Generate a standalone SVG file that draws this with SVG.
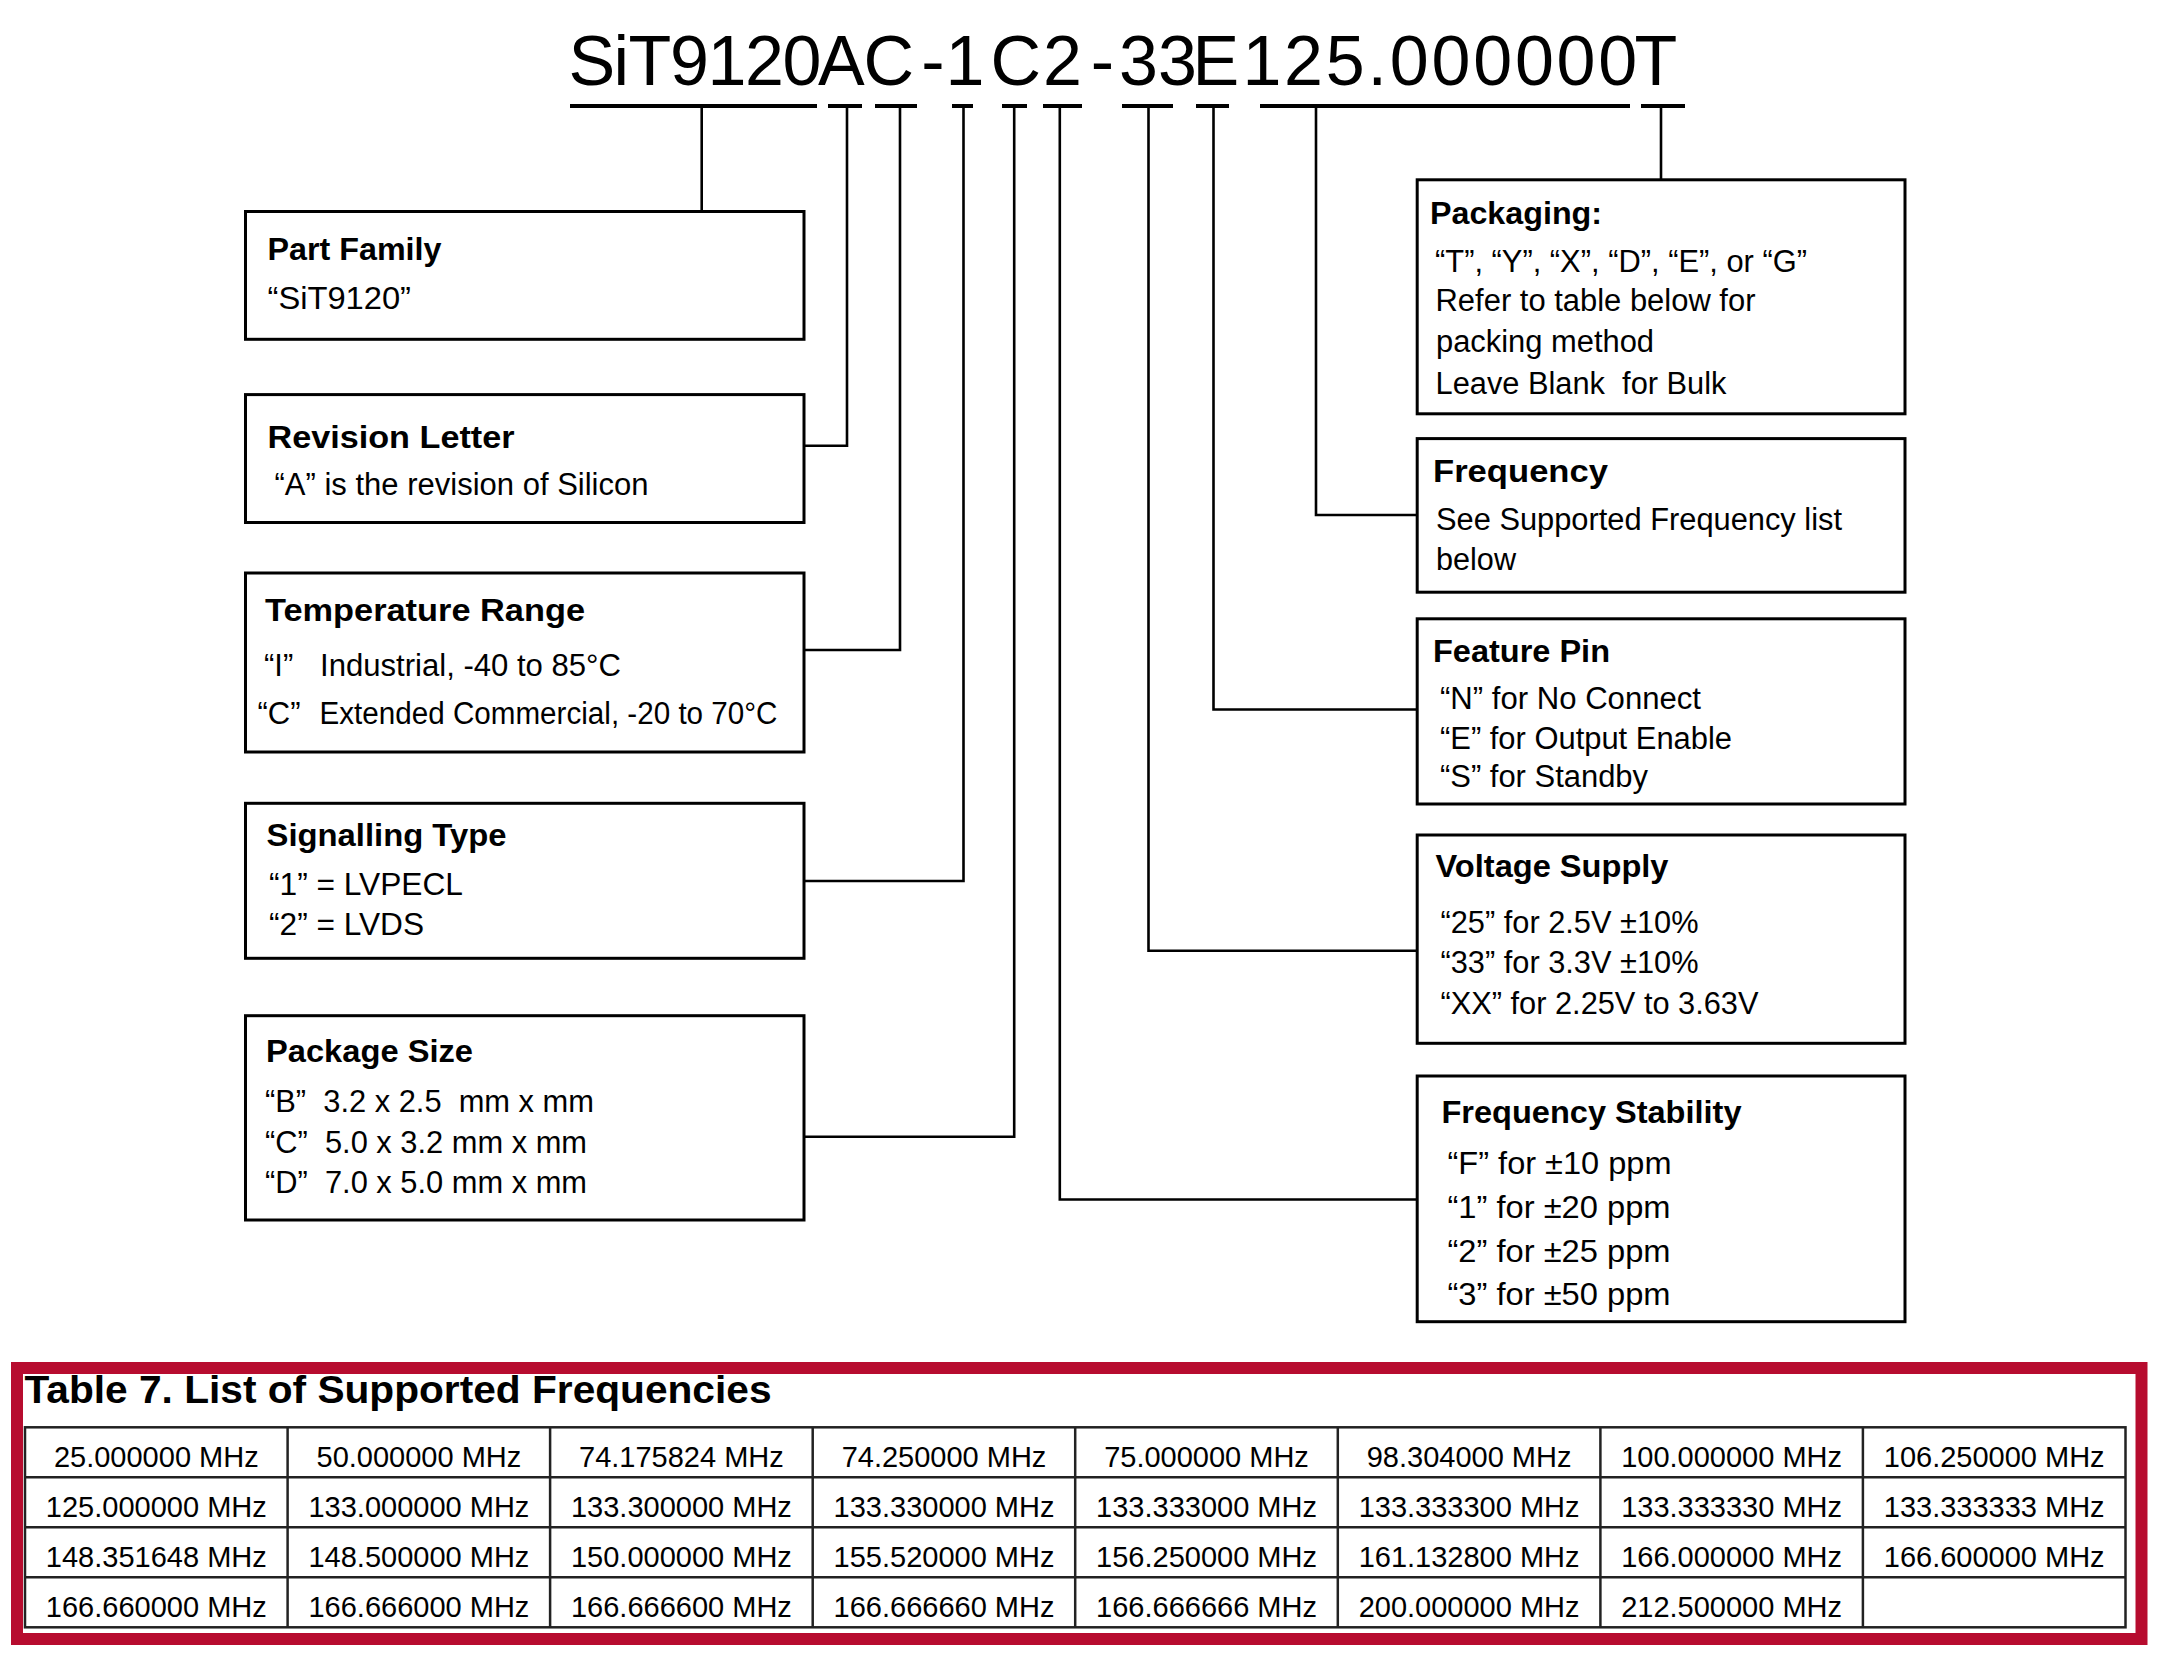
<svg xmlns="http://www.w3.org/2000/svg" width="2158" height="1667" viewBox="0 0 2158 1667">
<style>
text{font-family:"Liberation Sans",Arial,Helvetica,sans-serif;fill:#000}
.t{font-size:70px}
.h{font-size:32px;font-weight:bold}
.b{font-size:31px}
.box{fill:#fff;stroke:#000;stroke-width:3}
.conn{fill:none;stroke:#000;stroke-width:2.6}
.ul{stroke:#000;stroke-width:4}
.grid{stroke:#222;stroke-width:2.5;fill:none}
.cell{font-size:29px;text-anchor:middle}
.tt{font-size:38px;font-weight:bold}
</style>
<rect width="2158" height="1667" fill="#fff"/>

<g id="part-number">
<text class="t" y="85" x="568.5 613.6 628.6 669.9 707.4 744.9 782.4 818 863.5 921.3 945.6 990.6 1042.9 1090.8 1119 1157.9 1192.5 1242.4 1284.1 1325.8 1367.5 1389.8 1431.5 1473.2 1514.9 1556.6 1598.3 1634.6">SiT9120AC-1C2-33E125.000000T</text>
<line class="ul" x1="570" y1="106" x2="817" y2="106"/>
<line class="ul" x1="828" y1="106" x2="862" y2="106"/>
<line class="ul" x1="875" y1="106" x2="917" y2="106"/>
<line class="ul" x1="952" y1="106" x2="973" y2="106"/>
<line class="ul" x1="1002" y1="106" x2="1027" y2="106"/>
<line class="ul" x1="1043" y1="106" x2="1082" y2="106"/>
<line class="ul" x1="1122" y1="106" x2="1173" y2="106"/>
<line class="ul" x1="1196" y1="106" x2="1229" y2="106"/>
<line class="ul" x1="1260" y1="106" x2="1630" y2="106"/>
<line class="ul" x1="1641" y1="106" x2="1685" y2="106"/>
</g>

<g id="connectors">
<polyline class="conn" points="701.7,106 701.7,211.5"/>
<polyline class="conn" points="847,106 847,445.7 804,445.7"/>
<polyline class="conn" points="900,106 900,650 804,650"/>
<polyline class="conn" points="963.5,106 963.5,881 804,881"/>
<polyline class="conn" points="1014.2,106 1014.2,1136.7 804,1136.7"/>
<polyline class="conn" points="1059.8,106 1059.8,1199.5 1417,1199.5"/>
<polyline class="conn" points="1148.5,106 1148.5,950.7 1417,950.7"/>
<polyline class="conn" points="1213.5,106 1213.5,709.5 1417,709.5"/>
<polyline class="conn" points="1316,106 1316,515 1417,515"/>
<polyline class="conn" points="1661,106 1661,179.8"/>
</g>

<g id="part-family">
<rect class="box" x="245.5" y="211.5" width="558.5" height="127.8"/>
<text class="h" x="267.5" y="260" textLength="174" lengthAdjust="spacingAndGlyphs">Part Family</text>
<text class="b" x="267.5" y="309" textLength="143.5" lengthAdjust="spacingAndGlyphs">“SiT9120”</text>
</g>

<g id="revision-letter">
<rect class="box" x="245.5" y="394.6" width="558.5" height="127.9"/>
<text class="h" x="267.5" y="448" textLength="247" lengthAdjust="spacingAndGlyphs">Revision Letter</text>
<text class="b" x="274.5" y="494.6" textLength="374" lengthAdjust="spacingAndGlyphs">“A” is the revision of Silicon</text>
</g>

<g id="temperature-range">
<rect class="box" x="245.5" y="573" width="558.5" height="179"/>
<text class="h" x="265" y="620.5" textLength="320" lengthAdjust="spacingAndGlyphs">Temperature Range</text>
<text class="b" x="264" y="676">“I”</text>
<text class="b" x="320" y="676" textLength="301" lengthAdjust="spacingAndGlyphs">Industrial, -40 to 85°C</text>
<text class="b" x="257.5" y="723.5">“C”</text>
<text class="b" x="319.5" y="723.5" textLength="458" lengthAdjust="spacingAndGlyphs">Extended Commercial, -20 to 70°C</text>
</g>

<g id="signalling-type">
<rect class="box" x="245.5" y="803.3" width="558.5" height="155"/>
<text class="h" x="266.5" y="846" textLength="240" lengthAdjust="spacingAndGlyphs">Signalling Type</text>
<text class="b" x="269" y="895" textLength="194" lengthAdjust="spacingAndGlyphs">“1” = LVPECL</text>
<text class="b" x="269" y="935" textLength="155" lengthAdjust="spacingAndGlyphs">“2” = LVDS</text>
</g>

<g id="package-size">
<rect class="box" x="245.5" y="1015.7" width="558.5" height="204.3"/>
<text class="h" x="266" y="1061.7" textLength="207" lengthAdjust="spacingAndGlyphs">Package Size</text>
<text class="b" x="265" y="1111.7" xml:space="preserve" textLength="329" lengthAdjust="spacingAndGlyphs">“B”  3.2 x 2.5  mm x mm</text>
<text class="b" x="265" y="1152.7" xml:space="preserve" textLength="322" lengthAdjust="spacingAndGlyphs">“C”  5.0 x 3.2 mm x mm</text>
<text class="b" x="265" y="1193.3" xml:space="preserve" textLength="322" lengthAdjust="spacingAndGlyphs">“D”  7.0 x 5.0 mm x mm</text>
</g>

<g id="packaging">
<rect class="box" x="1417.2" y="179.8" width="487.8" height="234"/>
<text class="h" x="1430" y="224" textLength="172" lengthAdjust="spacingAndGlyphs">Packaging:</text>
<text class="b" x="1435" y="271.5" textLength="372" lengthAdjust="spacingAndGlyphs">“T”, “Y”, “X”, “D”, “E”, or “G”</text>
<text class="b" x="1435.5" y="310.7" textLength="320" lengthAdjust="spacingAndGlyphs">Refer to table below for</text>
<text class="b" x="1436" y="351.5" textLength="218" lengthAdjust="spacingAndGlyphs">packing method</text>
<text class="b" x="1435.5" y="393.6" xml:space="preserve" textLength="291" lengthAdjust="spacingAndGlyphs">Leave Blank  for Bulk</text>
</g>

<g id="frequency">
<rect class="box" x="1417.2" y="438.6" width="487.8" height="153.6"/>
<text class="h" x="1433" y="482" textLength="175" lengthAdjust="spacingAndGlyphs">Frequency</text>
<text class="b" x="1436" y="529.5" textLength="406" lengthAdjust="spacingAndGlyphs">See Supported Frequency list</text>
<text class="b" x="1436" y="570.3" textLength="80" lengthAdjust="spacingAndGlyphs">below</text>
</g>

<g id="feature-pin">
<rect class="box" x="1417.2" y="618.8" width="487.8" height="185.2"/>
<text class="h" x="1433" y="661.7" textLength="177" lengthAdjust="spacingAndGlyphs">Feature Pin</text>
<text class="b" x="1440" y="709.2" textLength="261" lengthAdjust="spacingAndGlyphs">“N” for No Connect</text>
<text class="b" x="1440" y="749" textLength="292" lengthAdjust="spacingAndGlyphs">“E” for Output Enable</text>
<text class="b" x="1440" y="787" textLength="208" lengthAdjust="spacingAndGlyphs">“S” for Standby</text>
</g>

<g id="voltage-supply">
<rect class="box" x="1417.2" y="835" width="487.8" height="208.3"/>
<text class="h" x="1435.5" y="877.3" textLength="233" lengthAdjust="spacingAndGlyphs">Voltage Supply</text>
<text class="b" x="1440.5" y="932.7" textLength="258" lengthAdjust="spacingAndGlyphs">“25” for 2.5V ±10%</text>
<text class="b" x="1440.5" y="973.3" textLength="258" lengthAdjust="spacingAndGlyphs">“33” for 3.3V ±10%</text>
<text class="b" x="1440.5" y="1014" textLength="318" lengthAdjust="spacingAndGlyphs">“XX” for 2.25V to 3.63V</text>
</g>

<g id="frequency-stability">
<rect class="box" x="1417.2" y="1076" width="487.8" height="245.7"/>
<text class="h" x="1441.5" y="1123.3" textLength="300" lengthAdjust="spacingAndGlyphs">Frequency Stability</text>
<text class="b" x="1447.5" y="1174.3" textLength="224" lengthAdjust="spacingAndGlyphs">“F” for ±10 ppm</text>
<text class="b" x="1447.5" y="1218.3" textLength="223" lengthAdjust="spacingAndGlyphs">“1” for ±20 ppm</text>
<text class="b" x="1447.5" y="1261.7" textLength="223" lengthAdjust="spacingAndGlyphs">“2” for ±25 ppm</text>
<text class="b" x="1447.5" y="1305" textLength="223" lengthAdjust="spacingAndGlyphs">“3” for ±50 ppm</text>
</g>

<g id="frequency-table">
<rect x="17" y="1368" width="2124.5" height="271" fill="none" stroke="#b70c2f" stroke-width="12"/>
<text class="tt" x="24.5" y="1403.3" textLength="747" lengthAdjust="spacingAndGlyphs">Table 7. List of Supported Frequencies</text>
<rect class="grid" x="25" y="1427.3" width="2100.5" height="200"/>
<line class="grid" x1="25" y1="1477.3" x2="2125.5" y2="1477.3"/>
<line class="grid" x1="25" y1="1527.3" x2="2125.5" y2="1527.3"/>
<line class="grid" x1="25" y1="1577.3" x2="2125.5" y2="1577.3"/>
<line class="grid" x1="287.6" y1="1427.3" x2="287.6" y2="1627.3"/>
<line class="grid" x1="550.1" y1="1427.3" x2="550.1" y2="1627.3"/>
<line class="grid" x1="812.7" y1="1427.3" x2="812.7" y2="1627.3"/>
<line class="grid" x1="1075.2" y1="1427.3" x2="1075.2" y2="1627.3"/>
<line class="grid" x1="1337.8" y1="1427.3" x2="1337.8" y2="1627.3"/>
<line class="grid" x1="1600.4" y1="1427.3" x2="1600.4" y2="1627.3"/>
<line class="grid" x1="1862.9" y1="1427.3" x2="1862.9" y2="1627.3"/>
<text class="cell" x="156.3" y="1466.7">25.000000 MHz</text>
<text class="cell" x="418.9" y="1466.7">50.000000 MHz</text>
<text class="cell" x="681.4" y="1466.7">74.175824 MHz</text>
<text class="cell" x="944" y="1466.7">74.250000 MHz</text>
<text class="cell" x="1206.5" y="1466.7">75.000000 MHz</text>
<text class="cell" x="1469.1" y="1466.7">98.304000 MHz</text>
<text class="cell" x="1731.6" y="1466.7">100.000000 MHz</text>
<text class="cell" x="1994.2" y="1466.7">106.250000 MHz</text>
<text class="cell" x="156.3" y="1516.7">125.000000 MHz</text>
<text class="cell" x="418.9" y="1516.7">133.000000 MHz</text>
<text class="cell" x="681.4" y="1516.7">133.300000 MHz</text>
<text class="cell" x="944" y="1516.7">133.330000 MHz</text>
<text class="cell" x="1206.5" y="1516.7">133.333000 MHz</text>
<text class="cell" x="1469.1" y="1516.7">133.333300 MHz</text>
<text class="cell" x="1731.6" y="1516.7">133.333330 MHz</text>
<text class="cell" x="1994.2" y="1516.7">133.333333 MHz</text>
<text class="cell" x="156.3" y="1566.7">148.351648 MHz</text>
<text class="cell" x="418.9" y="1566.7">148.500000 MHz</text>
<text class="cell" x="681.4" y="1566.7">150.000000 MHz</text>
<text class="cell" x="944" y="1566.7">155.520000 MHz</text>
<text class="cell" x="1206.5" y="1566.7">156.250000 MHz</text>
<text class="cell" x="1469.1" y="1566.7">161.132800 MHz</text>
<text class="cell" x="1731.6" y="1566.7">166.000000 MHz</text>
<text class="cell" x="1994.2" y="1566.7">166.600000 MHz</text>
<text class="cell" x="156.3" y="1616.7">166.660000 MHz</text>
<text class="cell" x="418.9" y="1616.7">166.666000 MHz</text>
<text class="cell" x="681.4" y="1616.7">166.666600 MHz</text>
<text class="cell" x="944" y="1616.7">166.666660 MHz</text>
<text class="cell" x="1206.5" y="1616.7">166.666666 MHz</text>
<text class="cell" x="1469.1" y="1616.7">200.000000 MHz</text>
<text class="cell" x="1731.6" y="1616.7">212.500000 MHz</text>
</g>
</svg>
